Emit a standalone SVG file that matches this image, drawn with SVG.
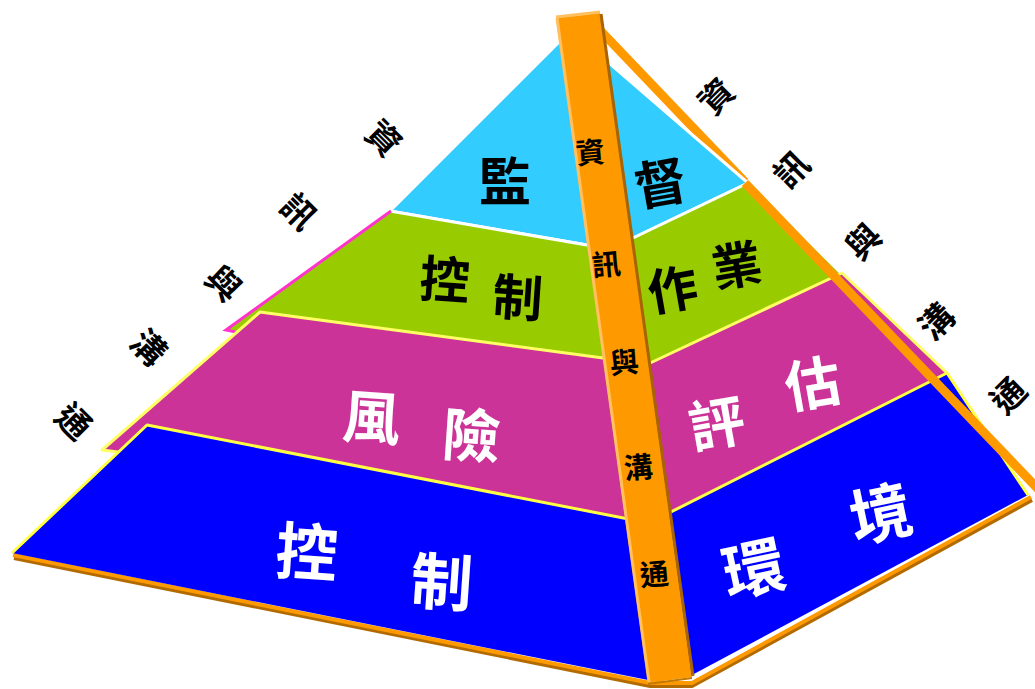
<svg xmlns="http://www.w3.org/2000/svg" width="1035" height="689" viewBox="0 0 1035 689">
<style>
.t{font-family:"Noto Sans CJK TC","Noto Sans CJK SC",sans-serif;text-anchor:middle;dominant-baseline:central;font-weight:700}
.k{fill:#000}
.w{fill:#fff}
.out{font-size:34px}
.bar{font-size:29px}
</style>
<rect width="1035" height="689" fill="#fff"/>
<!-- base rim -->
<g id="base-rim">
<polyline points="14,558 650,686 692,686 1032,500" fill="none" stroke="#B36B00" stroke-width="4"/>
<polyline points="13,555 650,683 692,683 1031,497" fill="none" stroke="#FF9900" stroke-width="4"/>
</g>
<!-- upper strip segment -->
<line x1="596" y1="26" x2="745" y2="182" stroke="#FF9900" stroke-width="9"/>
<!-- layer 1: monitoring triangle -->
<g id="layer-monitor">
<polygon points="571,30 748,183 610,249 390,211" fill="#33CCFF" stroke="#fff" stroke-width="3" stroke-linejoin="round"/>
<polyline points="612,252 748,186" fill="none" stroke="#999" stroke-width="1.5"/>
</g>
<!-- layer 2: control activities -->
<g id="layer-activities">
<polygon points="390,211 610,249 748,183 848,282 650,368 226,330" fill="#99CC00"/>
<polyline points="610,249 748,183" fill="none" stroke="#fff" stroke-width="3"/>
<polyline points="390,211 610,249" fill="none" stroke="#fff" stroke-width="3"/>
<polyline points="391,211 226,330 236,332" fill="none" stroke="#FF33CC" stroke-width="3"/>
</g>
<!-- layer 3: risk assessment -->
<g id="layer-risk">
<polygon points="260,312 648,364 842,273 947,373 660,525 102,450" fill="#CC3399"/>
<polyline points="118,452 102,450 260,312 648,364 842,273 947,373" fill="none" stroke="#FFFF66" stroke-width="3" stroke-linejoin="round"/>
</g>
<!-- layer 4: control environment -->
<g id="layer-env">
<polygon points="147,425 649,523 947,373 1028,495 692,675 648,680 12,553" fill="#0000FF"/>
<polyline points="12,553 147,425 649,523 947,373 1028,495" fill="none" stroke="#FFFF44" stroke-width="3" stroke-linejoin="round"/>
</g>
<!-- lower strip segment -->
<line x1="745" y1="183" x2="1040" y2="491" stroke="#FF9900" stroke-width="9"/>
<!-- vertical bar -->
<g id="bar">
<polygon points="556,18 600,13 692,677 648,683" fill="#FF9900"/>
<line x1="557" y1="18" x2="649" y2="682" stroke="#FFC060" stroke-width="3"/>
<line x1="556" y1="17" x2="600" y2="12" stroke="#FFC060" stroke-width="3"/>
<line x1="601" y1="14" x2="693" y2="676" stroke="#A86400" stroke-width="3"/>
<line x1="648" y1="684" x2="692" y2="678" stroke="#C07800" stroke-width="2"/>
<g class="t k bar">
<text transform="translate(590,150) rotate(-5)">資</text>
<text transform="translate(606,262) rotate(-5)">訊</text>
<text transform="translate(624,360) rotate(-5)">與</text>
<text transform="translate(638,465) rotate(-5)">溝</text>
<text transform="translate(654,572) rotate(-5)">通</text>
</g>
</g>
<!-- face labels -->
<g id="labels-front">
<text class="t k" font-size="52" x="505" y="178">監</text>
<text class="t k" font-size="50" transform="translate(445,276) rotate(4)">控</text>
<text class="t k" font-size="50" transform="translate(518,294) rotate(4)">制</text>
<text class="t w" font-size="58" transform="translate(372,414) rotate(4)">風</text>
<text class="t w" font-size="58" transform="translate(472,432) rotate(4)">險</text>
<text class="t w" font-size="62" transform="translate(307,548) rotate(4)">控</text>
<text class="t w" font-size="62" transform="translate(442,578) rotate(4)">制</text>
</g>
<g id="labels-right">
<text class="t k" font-size="52" transform="translate(660,180) rotate(-10)">督</text>
<text class="t k" font-size="50" transform="translate(672,286) rotate(-10)">作</text>
<text class="t k" font-size="50" transform="translate(736,262) rotate(-10)">業</text>
<text class="t w" font-size="56" transform="translate(716,420) rotate(-10)">評</text>
<text class="t w" font-size="56" transform="translate(812,380) rotate(-10)">估</text>
<text class="t w" font-size="62" transform="translate(753,565) rotate(-12)">環</text>
<text class="t w" font-size="62" transform="translate(880,510) rotate(-12)">境</text>
</g>
<!-- outer edge labels -->
<g id="labels-left-edge" class="t k out">
<text transform="translate(385,137) rotate(45)">資</text>
<text transform="translate(300,210) rotate(45)">訊</text>
<text transform="translate(225,282) rotate(45)">與</text>
<text transform="translate(150,346) rotate(45)">溝</text>
<text transform="translate(75,420) rotate(45)">通</text>
</g>
<g id="labels-right-edge" class="t k out">
<text transform="translate(715,95) rotate(-45)">資</text>
<text transform="translate(790,168) rotate(-45)">訊</text>
<text transform="translate(862,240) rotate(-45)">與</text>
<text transform="translate(935,320) rotate(-45)">溝</text>
<text transform="translate(1007,394) rotate(-45)">通</text>
</g>
</svg>
